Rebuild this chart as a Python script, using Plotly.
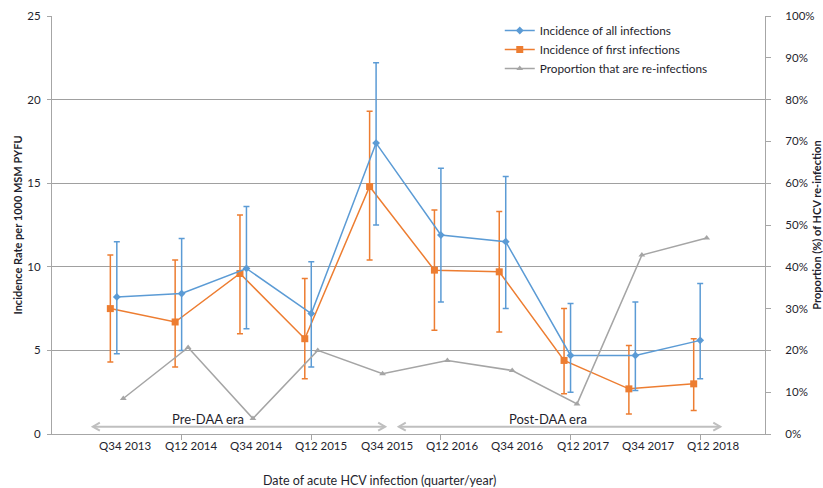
import plotly.graph_objects as go

# Half-year periods of acute HCV infection
periods = ["Q34 2013", "Q12 2014", "Q34 2014", "Q12 2015", "Q34 2015",
           "Q12 2016", "Q34 2016", "Q12 2017", "Q34 2017", "Q12 2018"]

# Incidence of all infections (per 1000 MSM PYFU) with 95% CI
all_rate = [8.2, 8.4, 9.9, 7.2, 17.4, 11.9, 11.5, 4.7, 4.7, 5.6]
all_upper = [11.5, 11.7, 13.6, 10.3, 22.2, 15.9, 15.4, 7.8, 7.9, 9.0]
all_lower = [4.8, 5.0, 6.3, 4.0, 12.5, 7.9, 7.5, 2.5, 2.6, 3.3]

# Incidence of first infections with 95% CI
first_rate = [7.5, 6.7, 9.6, 5.7, 14.8, 9.8, 9.7, 4.4, 2.7, 3.0]
first_upper = [10.7, 10.4, 13.1, 9.3, 19.3, 13.4, 13.3, 7.5, 5.3, 5.7]
first_lower = [4.3, 4.0, 6.0, 3.3, 10.4, 6.2, 6.1, 2.4, 1.2, 1.4]

# Proportion of incident infections that are re-infections (%)
reinf_pct = [8.5, 20.7, 3.7, 20.0, 14.4, 17.6, 15.2, 7.2, 42.8, 46.9]

BLUE = "#5B9BD5"
ORANGE = "#ED7D31"
GREY = "#A5A5A5"
TEXT = "#1f1f2e"
AXIS = "#A6A6A6"
FONT = "Lato, 'Liberation Sans', sans-serif"

pos = [i + 1 for i in range(len(periods))]
x_first = [p - 0.1 for p in pos]
x_reinf = [p + 0.1 for p in pos]
label_pos = [p + 0.13 + 0.008 * i for i, p in enumerate(pos)]


def ci(rate, upper, lower):
    return ([u - r for u, r in zip(upper, rate)],
            [r - l for r, l in zip(rate, lower)])


fig = go.Figure()

plus, minus = ci(first_rate, first_upper, first_lower)
fig.add_trace(go.Scatter(
    x=x_first, y=first_rate, mode="lines+markers",
    name="Incidence of first infections", legendrank=2,
    line=dict(color=ORANGE, width=1.5),
    marker=dict(symbol="square", size=7, color=ORANGE),
    error_y=dict(type="data", array=plus, arrayminus=minus,
                 color=ORANGE, thickness=1.5, width=3),
))

plus, minus = ci(all_rate, all_upper, all_lower)
fig.add_trace(go.Scatter(
    x=pos, y=all_rate, mode="lines+markers",
    name="Incidence of all infections", legendrank=1,
    line=dict(color=BLUE, width=1.5),
    marker=dict(symbol="diamond", size=6, color=BLUE),
    error_y=dict(type="data", array=plus, arrayminus=minus,
                 color=BLUE, thickness=1.5, width=3),
))

fig.add_trace(go.Scatter(
    x=x_reinf, y=[v / 100 for v in reinf_pct], mode="lines+markers",
    name="Proportion that are re-infections", legendrank=3,
    yaxis="y2",
    line=dict(color=GREY, width=1.5),
    marker=dict(symbol="triangle-up", size=6, color=GREY),
))

# Period labels under the axis
for lp, text in zip(label_pos, periods):
    fig.add_annotation(x=lp, y=0, xref="x", yref="paper", yanchor="middle",
                       yshift=-11, text=text, showarrow=False,
                       font=dict(family=FONT, size=11.5, color=TEXT))

# Horizontal axis title
fig.add_annotation(x=0.460, y=0, xref="paper", yref="paper", yanchor="middle",
                   yshift=-46, text="Date of acute HCV infection (quarter/year)",
                   showarrow=False, font=dict(family=FONT, size=12.5, color=TEXT))

# Era arrows along the bottom of the plot
ARROW = "#BFBFBF"
eras = [("Pre-DAA era", 0.63, 5.14, 2.4), ("Post-DAA era", 5.35, 10.31, 7.65)]
arrow_y = 0.44
for text, x0, x1, xt in eras:
    fig.add_shape(type="line", x0=x0, x1=x1, y0=arrow_y, y1=arrow_y,
                  xref="x", yref="y", line=dict(color=ARROW, width=2))
    for xa, path in ((x0, "M 7 -4 L 0 0 L 7 4"), (x1, "M -7 -4 L 0 0 L -7 4")):
        fig.add_shape(type="path", xref="x", yref="y",
                      xsizemode="pixel", ysizemode="pixel",
                      xanchor=xa, yanchor=arrow_y, path=path,
                      line=dict(color=ARROW, width=2))
    fig.add_annotation(x=xt, y=arrow_y, yshift=8, xref="x", yref="y",
                       text=text, showarrow=False,
                       font=dict(family=FONT, size=13, color=TEXT))

fig.update_layout(
    width=823, height=488,
    margin=dict(l=52, r=58, t=16, b=54),
    paper_bgcolor="white", plot_bgcolor="white",
    font=dict(family=FONT, color=TEXT, size=11),
    showlegend=True,
    legend=dict(x=0.628, y=1.0, xanchor="left", yanchor="top",
                bgcolor="rgba(0,0,0,0)", tracegroupgap=0,
                font=dict(family=FONT, size=11.8, color=TEXT),
                itemwidth=30),
    xaxis=dict(range=[0, 11], tickvals=[2, 4, 6, 8, 10], ticktext=[""] * 5,
               ticks="outside", ticklen=5, tickcolor=AXIS,
               showline=True, linecolor=AXIS, linewidth=1,
               showgrid=False, zeroline=False, automargin=False),
    yaxis=dict(range=[0, 25], dtick=5, ticks="outside", ticklen=4,
               tickcolor=AXIS, showline=True, linecolor=AXIS,
               showgrid=True, gridcolor="#A0A0A0", gridwidth=1,
               zeroline=False, ticklabelstandoff=4, automargin=False,
               tickfont=dict(family=FONT, size=11.5, color=TEXT),
               title=dict(text="<b>Incidence Rate per 1000 MSM PYFU</b>",
                          font=dict(family=FONT, size=11, color=TEXT),
                          standoff=2)),
    yaxis2=dict(range=[0, 1], dtick=0.1, tickformat=".0%", overlaying="y",
                side="right", ticks="outside", ticklen=5, tickcolor=AXIS,
                showline=True, linecolor=AXIS, showgrid=False,
                zeroline=False, ticklabelstandoff=12, automargin=False,
                tickfont=dict(family=FONT, size=11.5, color=TEXT),
                title=dict(text="<b>Proportion (%) of HCV re-infection</b>",
                           font=dict(family=FONT, size=11, color=TEXT),
                           standoff=4)),
)

fig.write_html("out.html")
